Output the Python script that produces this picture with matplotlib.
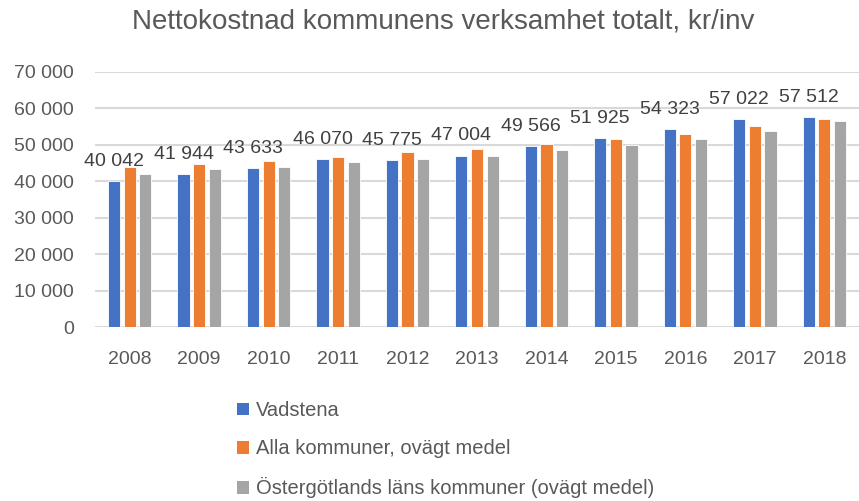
import numpy as np
import matplotlib.pyplot as plt
from matplotlib.patches import Patch

years = ['2008', '2009', '2010', '2011', '2012', '2013',
         '2014', '2015', '2016', '2017', '2018']
vadstena = [40042, 41944, 43633, 46070, 45775, 47004,
            49566, 51925, 54323, 57022, 57512]
alla = [44030, 44700, 45700, 46600, 48000, 49000,
        50250, 51550, 52900, 55200, 57200]
ostergotland = [42050, 43400, 44050, 45300, 46050, 46950,
                48700, 50000, 51550, 53900, 56550]

series_names = ['Vadstena', 'Alla kommuner, ovägt medel',
                'Östergötlands läns kommuner (ovägt medel)']
colors = ['#4472C4', '#ED7D31', '#A5A5A5']
text_col = '#595959'

plt.rcParams['font.family'] = ['Liberation Sans', 'DejaVu Sans']

fig = plt.figure(figsize=(8.59, 5.01), dpi=100)
ax = fig.add_axes([95 / 859, 1 - 327 / 501, 764 / 859, 255 / 501])

x = np.arange(len(years))
w = 0.175
step = 0.225
for i, (vals, c) in enumerate(zip([vadstena, alla, ostergotland], colors)):
    ax.bar(x + (i - 1) * step, vals, width=w, color=c,
           edgecolor='white', linewidth=0.6, zorder=3)

# data labels above the Vadstena bars
for xi, v in zip(x, vadstena):
    ax.annotate(f'{v:,}'.replace(',', ' '), xy=(xi - step, v),
                xytext=(0, 11), textcoords='offset points',
                ha='center', va='baseline', fontsize=14, color='#404040')

ax.set_xlim(-0.5, len(years) - 0.5)
ax.set_ylim(0, 70000)
ax.set_yticks(range(0, 70001, 10000))
ax.set_yticklabels([f'{t:,}'.replace(',', ' ') for t in range(0, 70001, 10000)])
ax.set_xticks(x)
ax.set_xticklabels(years)
ax.tick_params(axis='both', length=0, labelsize=14, colors=text_col)
ax.tick_params(axis='y', pad=15)
ax.tick_params(axis='x', pad=17)
ax.grid(axis='y', color='#D9D9D9', linewidth=1.5, zorder=0)
for s in ax.spines.values():
    s.set_visible(False)

fig.text(443 / 859, 1 - 22 / 501, 'Nettokostnad kommunens verksamhet totalt, kr/inv',
         ha='center', va='center', fontsize=20, color=text_col)

handles = [Patch(facecolor=c) for c in colors]
fig.legend(handles, series_names, loc='upper left',
           bbox_to_anchor=(219 / 859, 1 - 383 / 501), frameon=False,
           fontsize=14.5, labelcolor=text_col, handlelength=0.6,
           handleheight=0.6, handletextpad=0.35, labelspacing=0.95)

fig.savefig('out.png', dpi=100)
